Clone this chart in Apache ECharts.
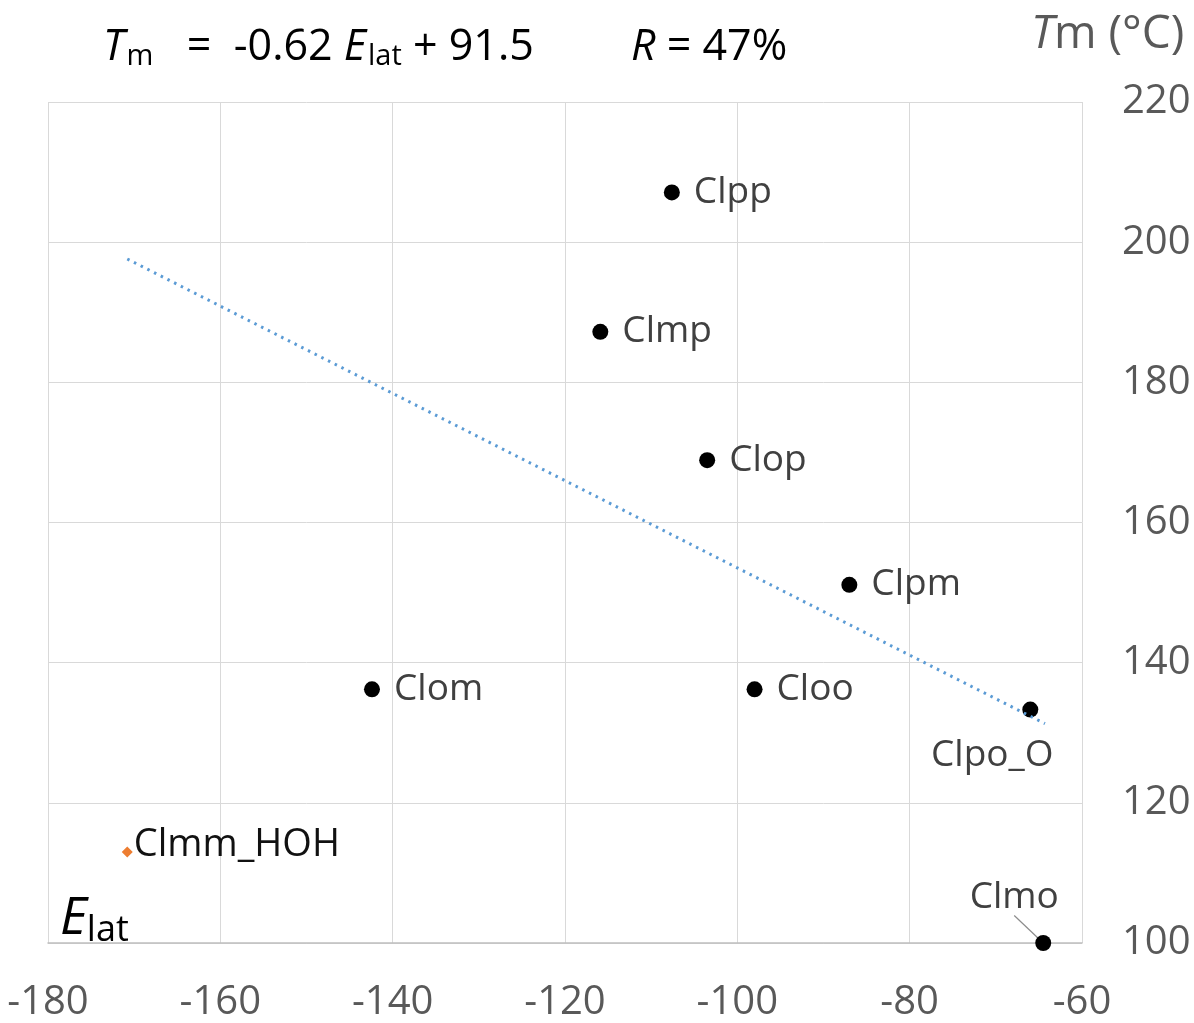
<!DOCTYPE html>
<html>
<head>
<meta charset="utf-8">
<script src="https://cdn.jsdelivr.net/npm/echarts@6/dist/echarts.min.js"></script>
<style>html,body{margin:0;padding:0;background:#fff;}#c{width:1194px;height:1023px;}</style>
</head>
<body>
<div id="c"></div>
<script>
// Data
const names = ['Clpp', 'Clmp', 'Clop', 'Clpm', 'Clom', 'Cloo', 'Clpo_O', 'Clmo'];
const eLat  = [-107.6, -115.9, -103.5, -87.0, -142.4, -98.0, -66.0, -64.5];
const tM    = [207.1, 187.2, 168.9, 151.1, 136.2, 136.2, 133.3, 100.0];
const hohName = ['Clmm_HOH'];
const hohE  = [-170.8];
const hohT  = [113.0];
const trendE = [-170.8, -64.3];
const trendT = [197.6, 131.3];
const xTicks = [-180, -160, -140, -120, -100, -80, -60];
const yTicks = [100, 120, 140, 160, 180, 200, 220];

const FONT = '"Open Sans", sans-serif';
const chart = echarts.init(document.getElementById('c'), null, {renderer: 'canvas'});

// special label placements (styles, kept separate from data)
const moved = {
  'Clpo_O': {dx: -38, dy: 46, line: false},
  'Clmo':   {dx: -29, dy: -46, line: true}
};

const mainData = names.map((n, i) => {
  const item = {name: n, value: [eLat[i], tM[i]]};
  if (moved[n]) {
    item.label = {position: 'inside', offset: [0, 0]};
    item.labelLine = {show: moved[n].line, lineStyle: {color: '#8c8c8c', width: 1.2}};
  }
  return item;
});

chart.setOption({
  animation: false,
  backgroundColor: '#ffffff',
  grid: {left: 48, right: 112, top: 102, bottom: 74, containLabel: false},
  xAxis: {
    type: 'value', min: -180, max: -60, interval: 20,
    axisLine: {show: true, lineStyle: {color: '#bfbfbf', width: 1.5}},
    axisTick: {show: false},
    splitLine: {show: true, lineStyle: {color: '#d9d9d9', width: 1}},
    axisLabel: {
      margin: 40, fontSize: 40, color: '#595959', fontFamily: FONT,
      formatter: v => xTicks.includes(v) ? String(v) : ''
    }
  },
  yAxis: {
    type: 'value', position: 'right', min: 100, max: 220, interval: 20,
    axisLine: {show: false},
    axisTick: {show: false},
    splitLine: {show: true, lineStyle: {color: '#d9d9d9', width: 1}},
    axisLabel: {
      margin: 40, fontSize: 40, color: '#595959', fontFamily: FONT,
      formatter: v => yTicks.includes(v) ? String(v) : ''
    }
  },
  series: [
    {
      type: 'scatter', name: 'main', clip: false, z: 3,
      symbol: 'circle', symbolSize: 16,
      itemStyle: {color: '#000000', opacity: 1},
      data: mainData,
      label: {
        show: true, position: 'right', distance: 14, offset: [0, 4],
        formatter: p => p.name,
        fontSize: 37, color: '#404040', fontFamily: FONT
      },
      labelLayout: function (params) {
        const n = names[params.dataIndex];
        if (moved[n]) return {dx: moved[n].dx, dy: moved[n].dy};
        return {};
      }
    },
    {
      type: 'scatter', name: 'hoh', clip: false, z: 3,
      symbol: 'diamond', symbolSize: 11,
      itemStyle: {color: '#ed7d31', opacity: 1},
      data: hohName.map((n, i) => ({name: n, value: [hohE[i], hohT[i]]})),
      label: {
        show: true, position: 'right', distance: 1,
        formatter: p => p.name, offset: [0, -7],
        fontSize: 38, color: '#111111', fontFamily: FONT
      }
    },
    {
      type: 'line', name: 'trend', z: 5,
      symbol: 'none', silent: true,
      lineStyle: {color: '#5b9bd5', width: 3, type: [2.5, 5]},
      data: trendE.map((e, i) => [e, trendT[i]])
    }
  ],
  graphic: [
    {
      type: 'text', left: 103, top: 26,
      style: {
        text: '{i|T}{s|m}{n|   =  -0.62 }{i|E}{s|lat}{n| + 91.5}',
        fontFamily: FONT,
        rich: {
          i: {fontSize: 43, fontStyle: 'italic', fill: '#000', fontFamily: FONT},
          n: {fontSize: 43, fill: '#000', fontFamily: FONT},
          s: {fontSize: 29, fill: '#000', fontFamily: FONT, padding: [18, 0, 0, 2]}
        }
      }
    },
    {
      type: 'text', left: 631, top: 26,
      style: {
        text: '{i|R}{n| = 47%}',
        rich: {
          i: {fontSize: 43, fontStyle: 'italic', fill: '#000', fontFamily: FONT},
          n: {fontSize: 43, fill: '#000', fontFamily: FONT}
        }
      }
    },
    {
      type: 'text', left: 1031, top: 12,
      style: {
        text: '{i|T}{n|m (°C)}',
        rich: {
          i: {fontSize: 46, fontStyle: 'italic', fill: '#595959', fontFamily: FONT},
          n: {fontSize: 46, fill: '#595959', fontFamily: FONT}
        }
      }
    },
    {
      type: 'text', left: 60, top: 893,
      style: {
        text: '{i|E}{s|lat}',
        rich: {
          i: {fontSize: 52, fontStyle: 'italic', fill: '#000', fontFamily: FONT},
          s: {fontSize: 36, fill: '#000', fontFamily: FONT, padding: [24, 0, 0, 0]}
        }
      }
    }
  ]
});
</script>
</body>
</html>
